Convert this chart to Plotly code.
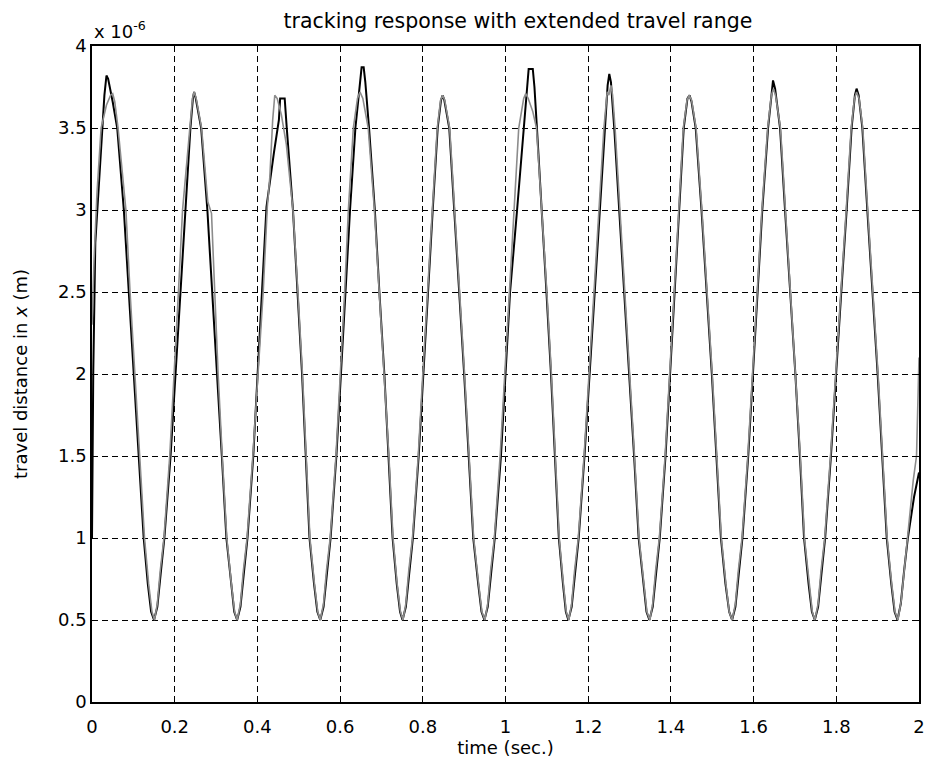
import plotly.graph_objects as go

# time (s) and travel distance (units of 1e-6 m) -- black trace
t_black = [
    0.000, 0.003, 0.008, 0.014, 0.024, 0.030, 0.035, 0.039, 0.050, 0.061, 0.077, 0.089, 0.101, 0.113, 0.125, 0.135, 0.143, 0.150,
    0.158, 0.166, 0.175, 0.190, 0.202, 0.213, 0.226, 0.238, 0.244, 0.247, 0.251, 0.264, 0.279, 0.291, 0.303, 0.314, 0.325, 0.336, 0.344, 0.351,
    0.359, 0.367, 0.376, 0.390, 0.401, 0.411, 0.422, 0.440, 0.452, 0.455, 0.466, 0.471, 0.486, 0.497, 0.508, 0.517, 0.526, 0.537, 0.545, 0.552,
    0.560, 0.568, 0.577, 0.591, 0.602, 0.613, 0.624, 0.637, 0.646, 0.652, 0.657, 0.661, 0.670, 0.684, 0.695, 0.707, 0.717, 0.727, 0.737, 0.745, 0.751,
    0.759, 0.767, 0.776, 0.790, 0.801, 0.812, 0.824, 0.836, 0.844, 0.848, 0.852, 0.864, 0.876, 0.889, 0.900, 0.911, 0.922, 0.934, 0.942, 0.949,
    0.957, 0.965, 0.974, 0.989, 1.000, 1.011, 1.028, 1.044, 1.052, 1.056, 1.066, 1.070, 1.076, 1.088, 1.099, 1.110, 1.120, 1.129, 1.139, 1.146, 1.152,
    1.160, 1.168, 1.177, 1.191, 1.203, 1.215, 1.227, 1.239, 1.247, 1.251, 1.255, 1.263, 1.275, 1.288, 1.300, 1.311, 1.322, 1.333, 1.341, 1.348,
    1.356, 1.364, 1.373, 1.387, 1.398, 1.408, 1.419, 1.431, 1.440, 1.445, 1.450, 1.460, 1.474, 1.487, 1.499, 1.510, 1.521, 1.532, 1.541, 1.548,
    1.556, 1.564, 1.573, 1.587, 1.598, 1.609, 1.621, 1.635, 1.643, 1.647, 1.652, 1.664, 1.676, 1.689, 1.701, 1.712, 1.722, 1.733, 1.741, 1.748,
    1.756, 1.764, 1.773, 1.787, 1.799, 1.812, 1.825, 1.837, 1.845, 1.849, 1.854, 1.863, 1.875, 1.888, 1.900, 1.911, 1.922, 1.933, 1.941, 1.948,
    1.956, 1.964, 1.973, 1.988, 2.000,
]
x_black = [
    1.00, 2.00, 2.80, 3.05, 3.50, 3.70, 3.82, 3.80, 3.66, 3.50, 3.00, 2.50, 2.00, 1.50, 1.00, 0.72, 0.55, 0.50,
    0.58, 0.78, 1.00, 1.50, 2.00, 2.50, 3.00, 3.50, 3.68, 3.72, 3.68, 3.50, 3.00, 2.50, 2.00, 1.50, 1.00, 0.72, 0.55, 0.50,
    0.58, 0.78, 1.00, 1.50, 2.00, 2.50, 3.02, 3.35, 3.55, 3.68, 3.68, 3.50, 3.00, 2.50, 2.00, 1.50, 1.00, 0.72, 0.55, 0.50,
    0.58, 0.78, 1.00, 1.50, 2.00, 2.50, 3.00, 3.50, 3.75, 3.87, 3.87, 3.78, 3.50, 3.00, 2.50, 2.00, 1.50, 1.00, 0.72, 0.55, 0.50,
    0.58, 0.78, 1.00, 1.50, 2.00, 2.50, 3.00, 3.50, 3.67, 3.70, 3.67, 3.50, 3.00, 2.50, 2.00, 1.50, 1.00, 0.72, 0.55, 0.50,
    0.58, 0.78, 1.00, 1.50, 2.00, 2.50, 3.00, 3.50, 3.75, 3.86, 3.86, 3.75, 3.50, 3.00, 2.50, 2.00, 1.50, 1.00, 0.72, 0.55, 0.50,
    0.58, 0.78, 1.00, 1.50, 2.00, 2.50, 3.00, 3.50, 3.76, 3.83, 3.78, 3.50, 3.00, 2.50, 2.00, 1.50, 1.00, 0.72, 0.55, 0.50,
    0.58, 0.78, 1.00, 1.50, 2.00, 2.50, 3.00, 3.50, 3.68, 3.70, 3.66, 3.50, 3.00, 2.50, 2.00, 1.50, 1.00, 0.72, 0.55, 0.50,
    0.58, 0.78, 1.00, 1.50, 2.00, 2.50, 3.00, 3.50, 3.72, 3.79, 3.74, 3.50, 3.00, 2.50, 2.00, 1.50, 1.00, 0.72, 0.55, 0.50,
    0.58, 0.78, 1.00, 1.50, 2.00, 2.50, 3.00, 3.50, 3.70, 3.74, 3.70, 3.50, 3.00, 2.50, 2.00, 1.50, 1.00, 0.72, 0.55, 0.50,
    0.60, 0.80, 1.00, 1.25, 1.40,
]

# gray trace
t_gray = [
    0.000, 0.005, 0.012, 0.022, 0.035, 0.045, 0.050, 0.055, 0.063, 0.070, 0.082, 0.092, 0.104, 0.115, 0.127, 0.137, 0.145, 0.151,
    0.158, 0.165, 0.174, 0.188, 0.199, 0.209, 0.219, 0.236, 0.243, 0.247, 0.252, 0.265, 0.280, 0.289, 0.296, 0.305, 0.315, 0.326, 0.337, 0.345, 0.351,
    0.359, 0.366, 0.375, 0.389, 0.401, 0.414, 0.424, 0.430, 0.437, 0.442, 0.448, 0.458, 0.470, 0.486, 0.498, 0.509, 0.518, 0.527, 0.538, 0.546, 0.552,
    0.560, 0.567, 0.576, 0.590, 0.601, 0.611, 0.620, 0.632, 0.642, 0.648, 0.655, 0.668, 0.683, 0.695, 0.707, 0.718, 0.728, 0.738, 0.746, 0.752,
    0.759, 0.766, 0.775, 0.789, 0.800, 0.811, 0.823, 0.835, 0.843, 0.848, 0.853, 0.865, 0.877, 0.890, 0.901, 0.912, 0.923, 0.935, 0.943, 0.950,
    0.957, 0.964, 0.973, 0.987, 0.998, 1.009, 1.020, 1.032, 1.044, 1.049, 1.055, 1.066, 1.075, 1.088, 1.100, 1.111, 1.121, 1.130, 1.140, 1.147, 1.153,
    1.160, 1.167, 1.176, 1.190, 1.202, 1.214, 1.226, 1.238, 1.246, 1.250, 1.255, 1.259, 1.265, 1.277, 1.289, 1.301, 1.312, 1.323, 1.334, 1.342, 1.349,
    1.356, 1.363, 1.372, 1.386, 1.397, 1.407, 1.418, 1.430, 1.439, 1.444, 1.450, 1.461, 1.475, 1.488, 1.500, 1.511, 1.522, 1.533, 1.541, 1.548,
    1.556, 1.563, 1.572, 1.586, 1.597, 1.608, 1.620, 1.634, 1.643, 1.648, 1.653, 1.665, 1.677, 1.690, 1.702, 1.713, 1.723, 1.734, 1.742, 1.748,
    1.756, 1.763, 1.772, 1.786, 1.798, 1.811, 1.824, 1.836, 1.844, 1.849, 1.855, 1.864, 1.876, 1.889, 1.901, 1.912, 1.923, 1.934, 1.942, 1.949,
    1.957, 1.965, 1.972, 1.986, 1.994, 2.000,
]
x_gray = [
    2.30, 2.70, 3.10, 3.50, 3.64, 3.70, 3.71, 3.66, 3.50, 3.30, 3.00, 2.50, 2.00, 1.50, 1.00, 0.72, 0.55, 0.50,
    0.60, 0.80, 1.00, 1.50, 2.00, 2.50, 3.00, 3.50, 3.68, 3.72, 3.68, 3.50, 3.05, 2.98, 2.50, 2.00, 1.50, 1.00, 0.72, 0.55, 0.50,
    0.60, 0.80, 1.00, 1.50, 2.00, 2.50, 3.02, 3.20, 3.55, 3.70, 3.68, 3.58, 3.40, 3.00, 2.50, 2.00, 1.50, 1.00, 0.72, 0.55, 0.50,
    0.60, 0.80, 1.00, 1.50, 2.00, 2.50, 3.00, 3.50, 3.68, 3.72, 3.68, 3.50, 3.00, 2.50, 2.00, 1.50, 1.00, 0.72, 0.55, 0.50,
    0.60, 0.80, 1.00, 1.50, 2.00, 2.50, 3.00, 3.50, 3.67, 3.70, 3.67, 3.50, 3.00, 2.50, 2.00, 1.50, 1.00, 0.72, 0.55, 0.50,
    0.60, 0.80, 1.00, 1.50, 2.00, 2.50, 3.00, 3.50, 3.68, 3.71, 3.68, 3.60, 3.50, 3.00, 2.50, 2.00, 1.50, 1.00, 0.72, 0.55, 0.50,
    0.60, 0.80, 1.00, 1.50, 2.00, 2.50, 3.00, 3.50, 3.72, 3.70, 3.76, 3.70, 3.50, 3.00, 2.50, 2.00, 1.50, 1.00, 0.72, 0.55, 0.50,
    0.60, 0.80, 1.00, 1.50, 2.00, 2.50, 3.00, 3.50, 3.67, 3.70, 3.67, 3.50, 3.00, 2.50, 2.00, 1.50, 1.00, 0.72, 0.55, 0.50,
    0.60, 0.80, 1.00, 1.50, 2.00, 2.50, 3.00, 3.50, 3.70, 3.74, 3.70, 3.50, 3.00, 2.50, 2.00, 1.50, 1.00, 0.72, 0.55, 0.50,
    0.60, 0.80, 1.00, 1.50, 2.00, 2.50, 3.00, 3.50, 3.68, 3.72, 3.68, 3.50, 3.00, 2.50, 2.00, 1.50, 1.00, 0.72, 0.55, 0.50,
    0.62, 0.82, 1.00, 1.35, 1.50, 2.10,
]

x_ticks = [0, 0.2, 0.4, 0.6, 0.8, 1, 1.2, 1.4, 1.6, 1.8, 2]
y_ticks = [0, 0.5, 1, 1.5, 2, 2.5, 3, 3.5, 4]

FONT = "DejaVu Sans, Arial, sans-serif"

fig = go.Figure()
fig.add_trace(go.Scatter(x=t_black, y=x_black, mode="lines",
                         line=dict(color="black", width=2.0), showlegend=False))
fig.add_trace(go.Scatter(x=t_gray, y=x_gray, mode="lines",
                         line=dict(color="#8c8c8c", width=1.6), showlegend=False))

axis_common = dict(
    showline=True, mirror="ticks", linecolor="black", linewidth=1.5,
    showgrid=True, gridcolor="black", griddash="6px,4px", gridwidth=1.3,
    ticks="inside", ticklen=5, tickcolor="black", zeroline=False,
    tickfont=dict(family=FONT, size=18, color="black"),
)

fig.update_xaxes(range=[0, 2], tickvals=x_ticks, ticklabelstandoff=8,
                 title=dict(text="time (sec.)", font=dict(family=FONT, size=18, color="black"), standoff=2),
                 **axis_common)
fig.update_yaxes(range=[0, 4], tickvals=y_ticks,
                 title=dict(text="travel distance in <i>x</i> (m)", font=dict(family=FONT, size=18, color="black"), standoff=26),
                 **axis_common)

fig.update_layout(
    width=931, height=766,
    margin=dict(l=92, r=6, t=46, b=64),
    paper_bgcolor="white", plot_bgcolor="white",
    title=dict(text="tracking response with extended travel range",
               x=0.515, xref="paper", xanchor="center",
               y=0.973, yref="container", yanchor="middle",
               font=dict(family=FONT, size=20.5, color="black")),
    annotations=[dict(text="x 10<sup>-6</sup>", xref="paper", yref="paper",
                      x=0, y=1, xanchor="left", yanchor="bottom", showarrow=False,
                      font=dict(family=FONT, size=18, color="black"), yshift=2)],
)

fig.write_html("out.html", config={"displayModeBar": False},
               post_script="document.body.style.margin='0';document.body.style.overflow='hidden';")
